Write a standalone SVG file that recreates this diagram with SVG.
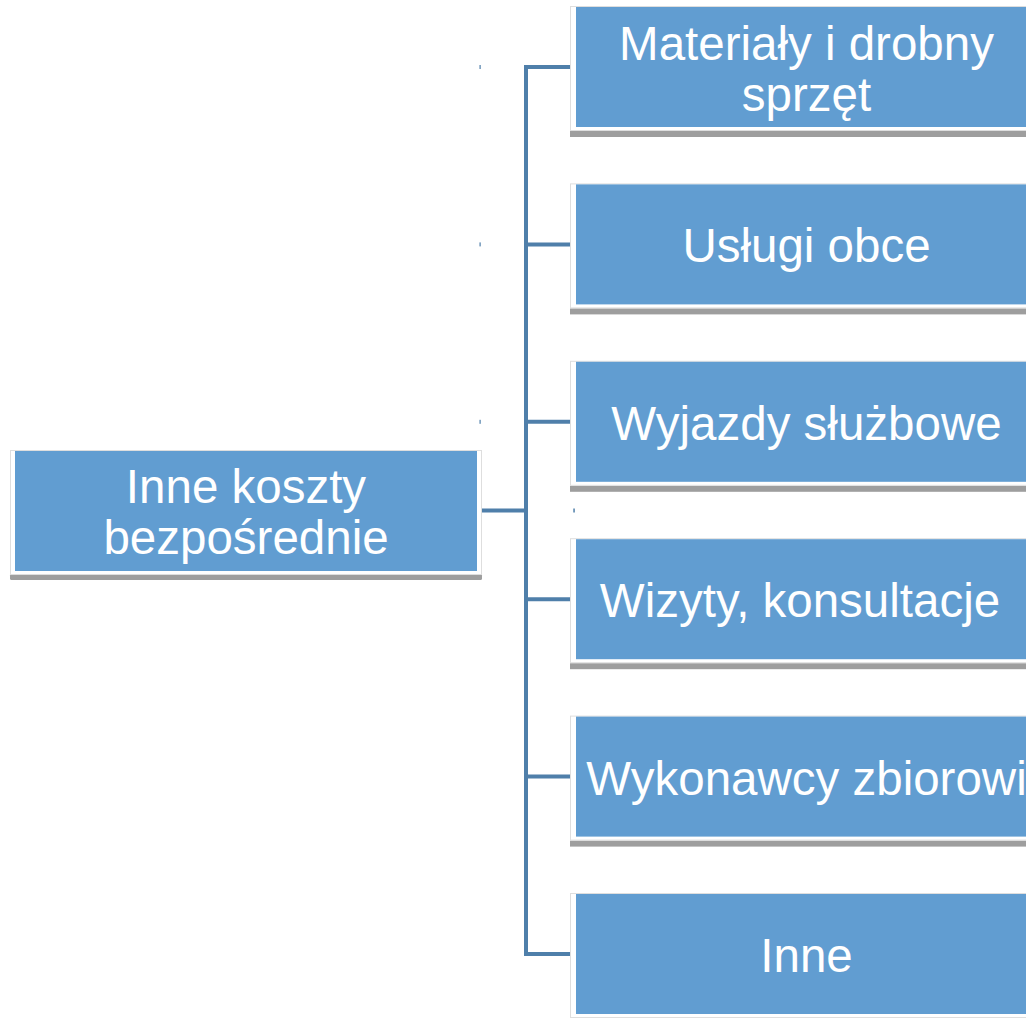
<svg xmlns="http://www.w3.org/2000/svg" width="1026" height="1018" viewBox="0 0 1026 1018">
  <style>
    .shadow { fill: #9e9e9e; }
    .frame { fill: #ffffff; stroke: #dedede; stroke-width: 1; }
    .fill { fill: #619dd1; }
    .label { font-family: "Liberation Sans", Arial, sans-serif; font-size: 47.5px; fill: #ffffff; text-anchor: middle; }
    .conn { fill: none; stroke: #4f7faa; stroke-width: 4; stroke-linejoin: miter; }
    .tick { fill: #4f7faa; }
  </style>
  <rect width="1026" height="1018" fill="#ffffff"/>

  <g id="connectors">
    <path class="conn" d="M482 510.5 H526"/>
    <path class="conn" d="M571 67 H526 V954 H571"/>
    <path class="conn" d="M526 244.4 H571"/>
    <path class="conn" d="M526 421.8 H571"/>
    <path class="conn" d="M526 599.2 H571"/>
    <path class="conn" d="M526 776.6 H571"/>
    <rect class="tick" x="479.5" y="65" width="1.2" height="4"/>
    <rect class="tick" x="479.5" y="242.4" width="1.2" height="4"/>
    <rect class="tick" x="479.5" y="419.8" width="1.2" height="4"/>
    <rect class="tick" x="573.3" y="508.5" width="1.5" height="4"/>
  </g>

  <g id="root">
    <rect class="shadow" x="10" y="574" width="472" height="6" rx="1.5"/>
    <rect class="frame" x="10.5" y="450.5" width="471" height="124"/>
    <rect class="fill" x="15" y="451" width="462" height="120"/>
    <text class="label" x="246" y="503">Inne koszty</text>
    <text class="label" x="246" y="554">bezpośrednie</text>
  </g>

  <g id="n1">
    <rect class="shadow" x="570" y="131" width="470" height="6"/>
    <rect class="frame" x="570.5" y="6.5" width="470" height="124"/>
    <rect class="fill" x="576" y="7" width="470" height="120"/>
    <text class="label" x="806.5" y="60">Materiały i drobny</text>
    <text class="label" x="806.5" y="111">sprzęt</text>
  </g>

  <g id="n2">
    <rect class="shadow" x="570" y="308.4" width="470" height="6"/>
    <rect class="frame" x="570.5" y="183.9" width="470" height="124"/>
    <rect class="fill" x="576" y="184.4" width="470" height="120"/>
    <text class="label" x="806.5" y="262.4">Usługi obce</text>
  </g>

  <g id="n3">
    <rect class="shadow" x="570" y="485.8" width="470" height="6"/>
    <rect class="frame" x="570.5" y="361.3" width="470" height="124"/>
    <rect class="fill" x="576" y="361.8" width="470" height="120"/>
    <text class="label" x="806.5" y="439.8">Wyjazdy służbowe</text>
  </g>

  <g id="n4">
    <rect class="shadow" x="570" y="663.2" width="470" height="6"/>
    <rect class="frame" x="570.5" y="538.7" width="470" height="124"/>
    <rect class="fill" x="576" y="539.2" width="470" height="120"/>
    <text class="label" x="800" y="617.2">Wizyty, konsultacje</text>
  </g>

  <g id="n5">
    <rect class="shadow" x="570" y="840.6" width="470" height="6"/>
    <rect class="frame" x="570.5" y="716.1" width="470" height="124"/>
    <rect class="fill" x="576" y="716.6" width="470" height="120"/>
    <text class="label" x="806.5" y="794.6">Wykonawcy zbiorowi</text>
  </g>

  <g id="n6">
    <rect class="shadow" x="570" y="1018" width="470" height="6"/>
    <rect class="frame" x="570.5" y="893.5" width="470" height="124"/>
    <rect class="fill" x="576" y="894" width="470" height="120"/>
    <text class="label" x="806.5" y="972">Inne</text>
  </g>
</svg>
